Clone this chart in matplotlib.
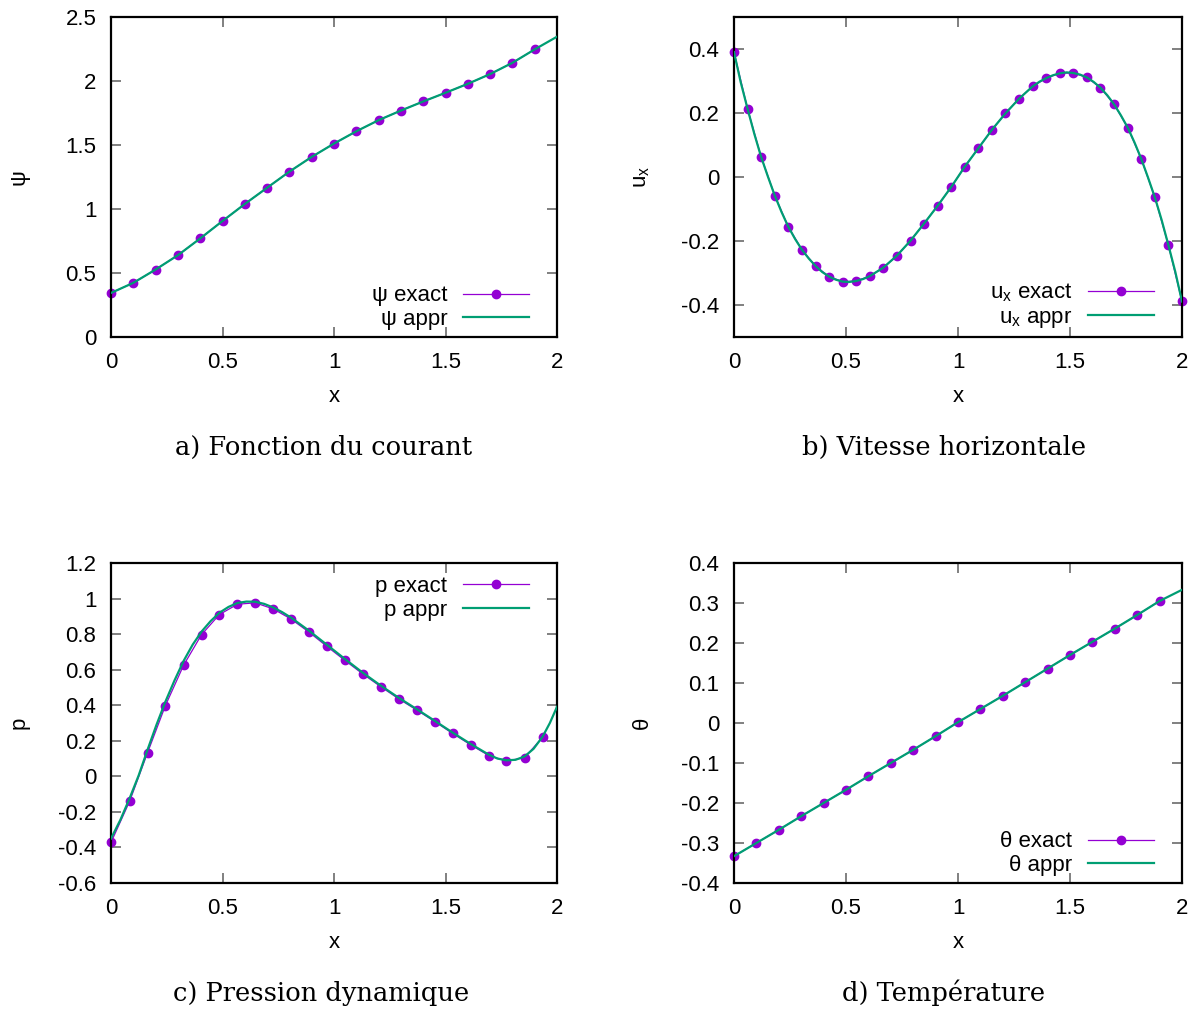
import matplotlib
matplotlib.use("Agg")
import matplotlib.pyplot as plt

# ---------------- data ----------------
psi_x = [0.0, 0.1, 0.2, 0.3, 0.4, 0.5, 0.6, 0.7, 0.8, 0.9, 1.0,
         1.1, 1.2, 1.3, 1.4, 1.5, 1.6, 1.7, 1.8, 1.9]
psi_exact = [0.344, 0.423, 0.527, 0.639, 0.770, 0.906, 1.039, 1.166, 1.292, 1.407,
             1.511, 1.607, 1.694, 1.769, 1.840, 1.908, 1.978, 2.054, 2.142, 2.247]
psi_appr_x = psi_x + [2.0]
psi_appr = psi_exact + [2.346]

ux_x = [0.0, 0.061, 0.121, 0.182, 0.242, 0.303, 0.364, 0.424, 0.485, 0.545,
        0.606, 0.667, 0.727, 0.788, 0.848, 0.909, 0.970, 1.030, 1.091, 1.152,
        1.212, 1.273, 1.333, 1.394, 1.455, 1.515, 1.576, 1.636, 1.697, 1.758,
        1.818, 1.879, 1.939, 2.0]
ux_exact = [0.390, 0.212, 0.063, -0.058, -0.155, -0.227, -0.278, -0.311, -0.327, -0.325,
            -0.310, -0.283, -0.246, -0.199, -0.146, -0.090, -0.031, 0.032, 0.090, 0.148,
            0.199, 0.245, 0.283, 0.309, 0.324, 0.325, 0.311, 0.279, 0.227, 0.154,
            0.057, -0.064, -0.212, -0.389]
ux_appr_x = [0.0, 0.030, 0.061, 0.091, 0.121, 0.152, 0.182, 0.212, 0.242, 0.273,
             0.303, 0.334, 0.364, 0.394, 0.424, 0.455, 0.485, 0.515, 0.545, 0.576,
             0.606, 0.667, 0.727, 0.788, 0.848, 0.909, 0.970, 1.030, 1.091, 1.152,
             1.212, 1.273, 1.333, 1.364, 1.394, 1.424, 1.455, 1.485, 1.515, 1.545,
             1.576, 1.606, 1.636, 1.667, 1.697, 1.727, 1.758, 1.788, 1.818, 1.848,
             1.879, 1.909, 1.939, 1.970, 2.0]
ux_appr = [0.390, 0.296, 0.212, 0.134, 0.063, -0.000, -0.058, -0.109, -0.155, -0.194,
           -0.227, -0.255, -0.278, -0.297, -0.311, -0.321, -0.327, -0.328, -0.325, -0.319,
           -0.310, -0.283, -0.246, -0.199, -0.146, -0.090, -0.031, 0.032, 0.090, 0.148,
           0.199, 0.245, 0.283, 0.298, 0.309, 0.318, 0.324, 0.327, 0.325, 0.320,
           0.311, 0.297, 0.279, 0.255, 0.227, 0.193, 0.154, 0.108, 0.057, -0.001,
           -0.064, -0.134, -0.212, -0.296, -0.389]

p_x = [0.0, 0.084, 0.164, 0.244, 0.326, 0.406, 0.486, 0.567, 0.647, 0.727,
       0.807, 0.887, 0.968, 1.049, 1.130, 1.210, 1.290, 1.372, 1.452, 1.532,
       1.613, 1.694, 1.773, 1.855, 1.935]
p_exact = [-0.372, -0.139, 0.133, 0.398, 0.626, 0.797, 0.910, 0.968, 0.976, 0.942,
           0.885, 0.812, 0.731, 0.652, 0.575, 0.504, 0.436, 0.372, 0.308, 0.241,
           0.177, 0.117, 0.086, 0.105, 0.220]
p_appr_x = [0.0, 0.042, 0.084, 0.124, 0.164, 0.204, 0.244, 0.285, 0.326, 0.366,
            0.406, 0.446, 0.486, 0.527, 0.567, 0.607, 0.647, 0.687, 0.727, 0.767,
            0.807, 0.887, 0.968, 1.049, 1.130, 1.210, 1.290, 1.372, 1.452, 1.532,
            1.613, 1.694, 1.733, 1.773, 1.814, 1.855, 1.895, 1.935, 1.968, 2.0]
p_appr = [-0.350, -0.245, -0.122, 0.005, 0.150, 0.290, 0.420, 0.540, 0.650, 0.740,
          0.814, 0.872, 0.920, 0.953, 0.975, 0.983, 0.982, 0.970, 0.950, 0.924,
          0.893, 0.820, 0.740, 0.660, 0.582, 0.510, 0.442, 0.377, 0.312, 0.246,
          0.182, 0.122, 0.100, 0.090, 0.093, 0.112, 0.155, 0.222, 0.300, 0.391]

th_x = [0.0, 0.1, 0.2, 0.3, 0.4, 0.5, 0.6, 0.7, 0.8, 0.9, 1.0,
        1.1, 1.2, 1.3, 1.4, 1.5, 1.6, 1.7, 1.8, 1.9]
th_exact = [-0.333, -0.300, -0.267, -0.233, -0.200, -0.167, -0.133, -0.100, -0.067, -0.033,
            0.002, 0.035, 0.068, 0.102, 0.136, 0.170, 0.203, 0.236, 0.270, 0.305]
th_appr_x = th_x + [2.0]
th_appr = th_exact + [0.333]

x_ticks = [0, 0.5, 1, 1.5, 2]
x_ticklabels = ["0", "0.5", "1", "1.5", "2"]

# ---------------- style ----------------
PURPLE = "#9400D3"
GREEN = "#009E73"
SANS = "Liberation Sans"
SERIF = "DejaVu Serif"
FS = 16

W, H = 1197, 1014
fig = plt.figure(figsize=(W / 100, H / 100), dpi=100)


def rect(l, r, t, b):
    return [l / W, 1 - b / H, (r - l) / W, (b - t) / H]


def fmt(v):
    s = ("%.1f" % v)
    if s.endswith(".0"):
        s = s[:-2]
    if s == "-0":
        s = "0"
    return s


def panel(pos, cap_xy, xe, ye, xa, ya, ylim, yticks, ylabel, lab_e, lab_a, loc, caption):
    l, r, t, b = pos
    wpx, hpx = r - l, b - t
    ax = fig.add_axes(rect(*pos))
    ax.plot(xe, ye, color=PURPLE, lw=0.9, marker="o", ms=6, mec=PURPLE, mfc=PURPLE,
            label=lab_e, zorder=2, clip_on=False)
    ax.plot(xa, ya, color=GREEN, lw=1.6, label=lab_a, zorder=3)
    ax.set_xlim(0, 2)
    ax.set_ylim(*ylim)
    ax.set_xticks(x_ticks)
    ax.set_xticklabels(x_ticklabels)
    ax.set_yticks(yticks)
    ax.set_yticklabels([fmt(v) for v in yticks])
    ax.tick_params(direction="in", length=7, width=1.4, color="#808080",
                   top=True, right=True, labelsize=FS)
    ax.tick_params(axis="x", pad=11)
    ax.tick_params(axis="y", pad=10.5)
    for lbl in ax.get_xticklabels() + ax.get_yticklabels():
        lbl.set_fontfamily(SANS)
    for s in ax.spines.values():
        s.set_linewidth(1.6)
    ax.text(0.5, -60 / hpx, "x", transform=ax.transAxes, ha="center", va="center",
            fontsize=FS, fontfamily=SANS)
    ax.text(-92 / wpx, 0.5, ylabel, transform=ax.transAxes, ha="center", va="center",
            rotation=90, fontsize=FS, fontfamily=SANS)
    if loc == "lower right":
        anchor = (0.938, 7 / hpx)
    else:
        anchor = (0.938, 1 - 13 / hpx)
    leg = ax.legend(loc=loc, bbox_to_anchor=anchor, frameon=False, markerfirst=False,
                    numpoints=1, handlelength=3.0, handletextpad=0.7, labelspacing=0.12,
                    borderpad=0, borderaxespad=0,
                    prop={"family": SANS, "size": FS})
    for t_ in leg.get_texts():
        t_.set_ha("right")
    leg._legend_box.align = "right"
    fig.text(cap_xy[0] / W, 1 - cap_xy[1] / H, caption, ha="center", va="center",
             fontsize=18.5, fontfamily=SERIF)
    return ax


panel((111, 557, 17, 337), (324, 447), psi_x, psi_exact, psi_appr_x, psi_appr,
      (0, 2.5), [0, 0.5, 1, 1.5, 2, 2.5], "ψ", "ψ exact", "ψ appr",
      "lower right", "a) Fonction du courant")
panel((734, 1182, 17, 337), (944, 447), ux_x, ux_exact, ux_appr_x, ux_appr,
      (-0.5, 0.5), [-0.4, -0.2, 0, 0.2, 0.4], r"u$_\mathregular{x}$",
      r"u$_\mathregular{x}$ exact", r"u$_\mathregular{x}$ appr",
      "lower right", "b) Vitesse horizontale")
panel((111, 557, 563, 883), (321, 993), p_x, p_exact, p_appr_x, p_appr,
      (-0.6, 1.2), [-0.6, -0.4, -0.2, 0, 0.2, 0.4, 0.6, 0.8, 1, 1.2], "p",
      "p exact", "p appr", "upper right", "c) Pression dynamique")
panel((734, 1182, 563, 883), (944, 993), th_x, th_exact, th_appr_x, th_appr,
      (-0.4, 0.4), [-0.4, -0.3, -0.2, -0.1, 0, 0.1, 0.2, 0.3, 0.4], "θ",
      "θ exact", "θ appr", "lower right", "d) Température")

fig.savefig("out.png", dpi=100)
